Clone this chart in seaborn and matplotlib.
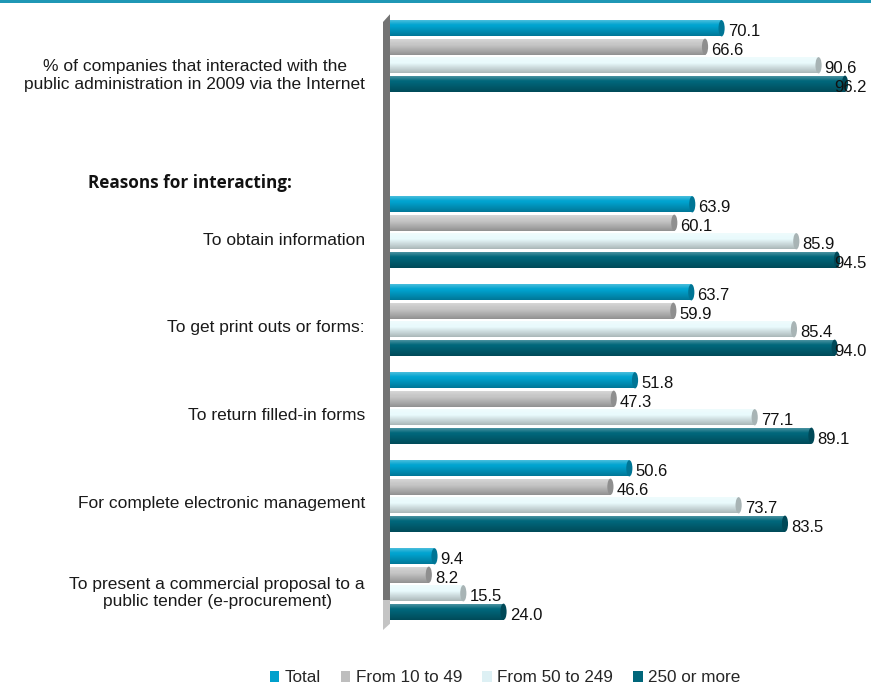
import numpy as np
import pandas as pd
import matplotlib
matplotlib.use("Agg")
import matplotlib.pyplot as plt
from matplotlib.patches import Polygon, Rectangle, Patch, Ellipse
from matplotlib.colors import to_rgb
import matplotlib.transforms as mtransforms
import seaborn as sns

# Categories (one empty slot holds the section heading)
categories = [
    "% of companies that interacted with the\npublic administration in 2009 via the Internet",
    "Reasons for interacting:",
    "To obtain information",
    "To get print outs or forms:",
    "To return filled-in forms",
    "For complete electronic management",
    "To present a commercial proposal to a\npublic tender (e-procurement)",
]
heading = "Reasons for interacting:"
series = ["Total", "From 10 to 49", "From 50 to 249", "250 or more"]

total = [70.1, 63.9, 63.7, 51.8, 50.6, 9.4]
from_10_49 = [66.6, 60.1, 59.9, 47.3, 46.6, 8.2]
from_50_249 = [90.6, 85.9, 85.4, 77.1, 73.7, 15.5]
over_250 = [96.2, 94.5, 94.0, 89.1, 83.5, 24.0]

colors = ["#00A3CF", "#C6C6C6", "#E9FAFC", "#00667A"]
legend_colors = ["#00A0CC", "#BEBEBE", "#DDF0F4", "#00667A"]

data_cats = [c for c in categories if c != heading]
rows = []
for s, vals in zip(series, [total, from_10_49, from_50_249, over_250]):
    for c, v in zip(data_cats, vals):
        rows.append({"category": c, "series": s, "value": v})
df = pd.DataFrame(rows)

sns.set_theme(style="white")
plt.rcParams["font.family"] = ["Liberation Sans", "DejaVu Sans"]

W, H = 871, 689
fig = plt.figure(figsize=(W / 100, H / 100), dpi=100)
ax = fig.add_axes([390 / W, 1 - 628 / H, 473 / W, 616 / H])

sns.barplot(data=df, y="category", x="value", hue="series", order=categories,
            hue_order=series, palette=colors, orient="h", width=0.84,
            dodge=True, ax=ax, legend=False, saturation=1.0,
            edgecolor="none", linewidth=0)

ax.set_xlim(0, 100)
ax.set_ylim(len(categories) - 0.5, -0.5)
ax.set_xticks([])
ax.set_yticks([])
ax.set_xlabel("")
ax.set_ylabel("")
for sp in ax.spines.values():
    sp.set_visible(False)

# Category labels on the left, nudged slightly below the group centre
label_offsets = [0.22, 0, 0.10, 0.08, 0.08, 0.08, 0.10]
lab_tr = mtransforms.blended_transform_factory(ax.transAxes, ax.transData)
for i, (c, off) in enumerate(zip(categories, label_offsets)):
    if c == heading:
        continue
    ax.text(-25 / 473, i + off, c, transform=lab_tr, fontsize=12.5,
            color="#1a1a1a", ha="right", va="center", multialignment="center",
            linespacing=1.2)
fig.text(88 / W, 1 - 183 / H, heading, fontsize=12.3, fontweight="bold",
         color="#111111", ha="left", va="center", family=["Open Sans", "DejaVu Sans"])

# Cylinder-like shading, rounded end caps and value labels on each bar
grad = np.linspace(0, 1, 64).reshape(-1, 1)
shade = np.zeros((64, 1, 4))
shade[..., 3] = np.clip(0.45 * (grad - 0.4), 0, None)
highlight = np.ones((64, 1, 4))
highlight[..., 3] = np.clip(0.35 * (1 - grad / 0.35), 0, None)
for bar in list(ax.patches):
    w = bar.get_width()
    if not np.isfinite(w) or w <= 0:
        continue
    h0 = bar.get_height()
    bar.set_y(bar.get_y() + h0 * 0.06)
    bar.set_height(h0 * 0.88)
    y0 = bar.get_y()
    h = bar.get_height()
    base = np.array(to_rgb(bar.get_facecolor()))
    for img in (shade, highlight):
        im = ax.imshow(img, extent=[0, w, y0 + h, y0], aspect="auto",
                       interpolation="bilinear", zorder=bar.get_zorder() + 0.1)
        im.set_clip_path(bar)
    cap = Ellipse((w, y0 + h / 2), width=1.3, height=h,
                  facecolor=tuple(base * 0.72), edgecolor="none",
                  zorder=bar.get_zorder() + 0.2)
    ax.add_patch(cap)
    ax.text(min(w + 1.3, 93.9), y0 + h * 0.72, f"{w:.1f}", fontsize=12,
            color="#111111", ha="left", va="center", zorder=5)
ax.set_xlim(0, 100)
ax.set_ylim(len(categories) - 0.5, -0.5)

# Left wall of the chart
def px(x, y):
    return (x / W, 1 - y / H)

wall = Polygon([px(383, 22), px(392, 12), px(392, 612), px(383, 618)],
               closed=True, transform=fig.transFigure, facecolor="#737373",
               edgecolor="none", zorder=0)
floor = Polygon([px(383, 600), px(392, 600), px(392, 612), px(403, 612),
                 px(383, 630)], closed=True, transform=fig.transFigure,
                facecolor="#C4C4C4", edgecolor="none", zorder=0)
fig.add_artist(wall)
fig.add_artist(floor)

# Accent line along the top edge
fig.add_artist(Rectangle((0, 1 - 3 / H), 1, 3 / H, transform=fig.transFigure,
                         facecolor="#1F97B5", edgecolor="none"))

handles = [Patch(facecolor=c, edgecolor="none", label=s)
           for c, s in zip(legend_colors, series)]
fig.legend(handles=handles, loc="center", bbox_to_anchor=px(505, 678), ncol=4,
           frameon=False, fontsize=12.3, handlelength=0.55, handleheight=0.55,
           handletextpad=0.3, columnspacing=1.2)

fig.savefig("out.png", dpi=100)
